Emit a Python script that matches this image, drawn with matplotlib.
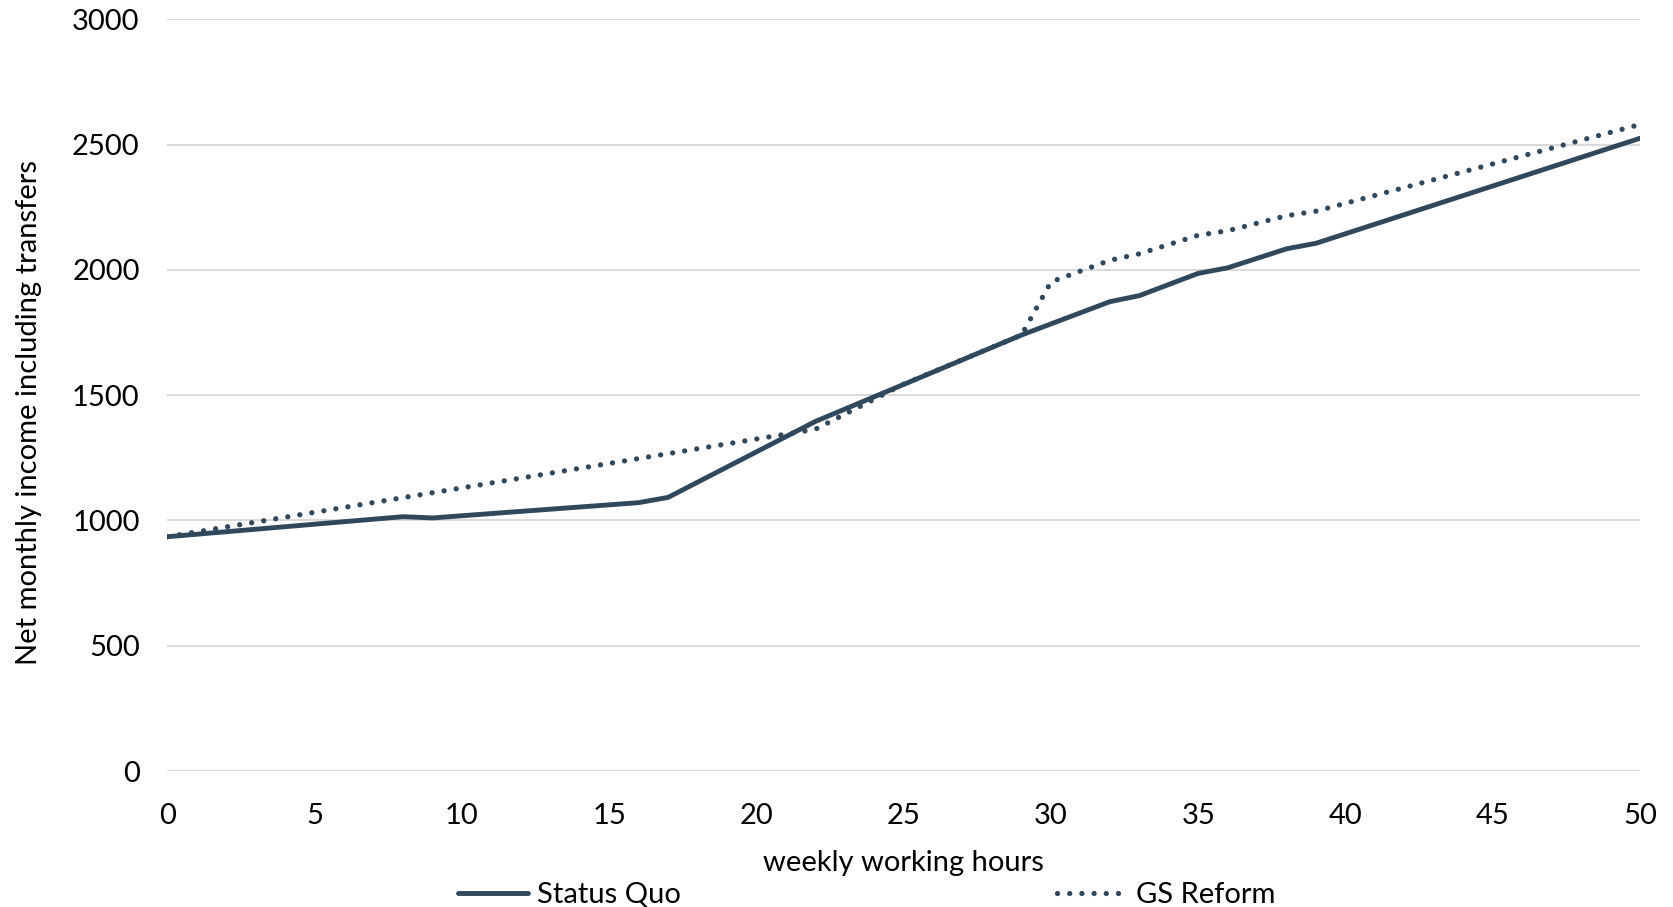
import matplotlib
matplotlib.use("Agg")
import matplotlib.pyplot as plt

# Weekly working hours and net monthly income (incl. transfers)
status_quo_hours = [0, 8, 9, 16, 17, 22, 29, 32, 33, 35, 36, 38, 39, 50]
status_quo_income = [935, 1015, 1010, 1071, 1092, 1395, 1740, 1873, 1897, 1986, 2008, 2084, 2106, 2525]

reform_hours = [0, 22, 25, 29, 30, 32, 33, 35, 36, 38, 39, 50]
reform_income = [935, 1364, 1544, 1740, 1952, 2038, 2064, 2138, 2156, 2216, 2234, 2580]

x_ticks = [0, 5, 10, 15, 20, 25, 30, 35, 40, 45, 50]
y_ticks = [0, 500, 1000, 1500, 2000, 2500, 3000]

series_names = ["Status Quo", "GS Reform"]
x_label = "weekly working hours"
y_label = "Net monthly income including transfers"

line_color = "#2f485c"
grid_color = "#d9d9d9"

plt.rcParams["font.family"] = ["Lato", "DejaVu Sans"]

fig = plt.figure(figsize=(16.73, 9.07), dpi=100)
ax = fig.add_axes([0.1001, 0.1499, 0.8802, 0.8289])

ax.plot(status_quo_hours, status_quo_income, color=line_color, lw=3.5,
        solid_capstyle="round", solid_joinstyle="round", label=series_names[0])
ax.plot(reform_hours, reform_income, color=line_color, lw=3.8,
        linestyle=(0, (0.01, 2.3)), dash_capstyle="round",
        label=series_names[1])

ax.set_xlim(0, 50)
ax.set_ylim(0, 3000)
ax.set_xticks(x_ticks)
ax.set_yticks(y_ticks)
ax.tick_params(axis="both", length=0, labelsize=21, colors="#000000")
ax.tick_params(axis="x", pad=23)
ax.tick_params(axis="y", pad=20)

ax.grid(axis="y", color=grid_color, lw=1.4)
ax.set_axisbelow(True)
for side in ["top", "right", "left", "bottom"]:
    ax.spines[side].set_visible(False)

ax.set_xlabel(x_label, fontsize=21, labelpad=15)
ax.set_ylabel(y_label, fontsize=21)
ax.yaxis.set_label_coords(-0.0855, 0.4766)

fig.legend(loc="center", bbox_to_anchor=(0.518, 0.0135), ncol=2,
           frameon=False, fontsize=21, handlelength=2.4, handletextpad=0.3,
           columnspacing=12.9, borderaxespad=0)

fig.savefig("out.png", dpi=100)
